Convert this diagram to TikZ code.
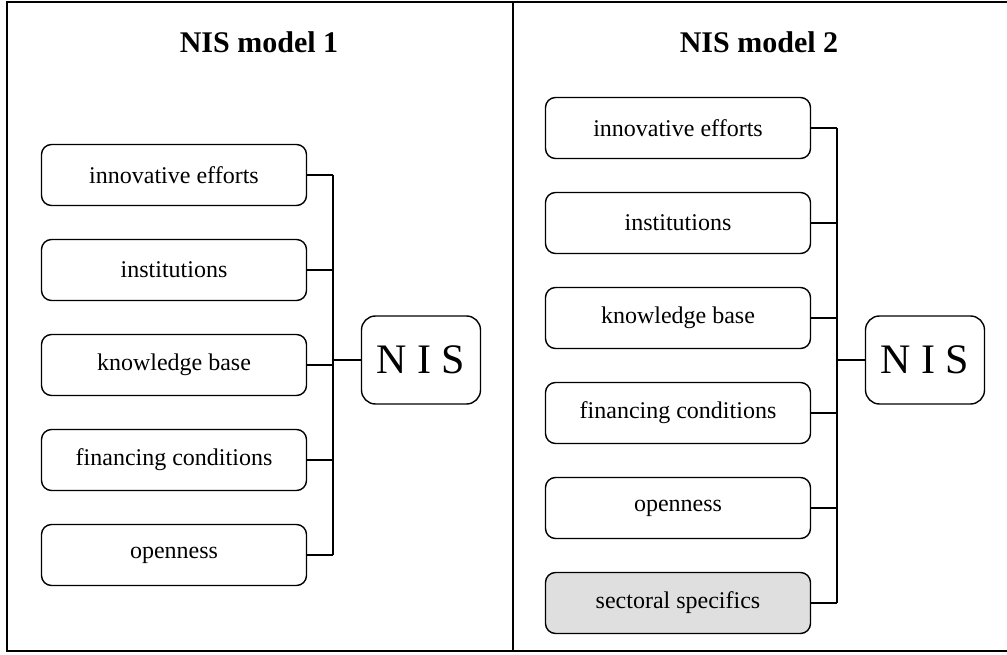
\documentclass[tikz,border=0pt]{standalone}
\usepackage{fontspec}
\setmainfont{Liberation Serif}
\usetikzlibrary{positioning}
\begin{document}
\begin{tikzpicture}[x=1pt, y=-1pt, node distance={32.6pt},
  box/.style = {draw, line width=1.4pt, rounded corners=10pt, minimum width=265pt, minimum height=61pt, font=\fontsize{24}{28}\selectfont},
  nis/.style = {draw, line width=1.4pt, rounded corners=14pt, minimum width=119pt, minimum height=88pt, font=\fontsize{42}{46}\selectfont},
  title/.style = {font=\fontsize{30}{34}\selectfont\bfseries},
  link/.style = {line width=1.4pt},
  bus/.style = {line width=2pt}]
\useasboundingbox (0,0) rectangle (1007,655);
\draw[line width=2.5pt] (1007,2) -| (7,651) -- (1007,651);
\draw[line width=2.5pt] (513,2) -- (513,651);

\node[title] (t1) at (259,42) {NIS model 1};
\node[title] (t2) at (759,42) {NIS model 2};

\node[box] (l1) at (174,175) {innovative efforts};
\node[box] (l2) [below=of l1] {institutions};
\node[box] (l3) [below=of l2] {knowledge base};
\node[box] (l4) [below=of l3] {financing conditions};
\node[box] (l5) [below=of l4] {openness};
\node[nis] (n1) at (421,360) {N I S};

\node[box] (r1) at (678,128) {innovative efforts};
\node[box] (r2) [below=of r1] {institutions};
\node[box] (r3) [below=of r2] {knowledge base};
\node[box] (r4) [below=of r3] {financing conditions};
\node[box] (r5) [below=of r4] {openness};
\node[box, fill=gray!25] (r6) [below=of r5] {sectoral specifics};
\node[nis] (n2) at (925,360) {N I S};

\coordinate (b1) at (333,0);
\coordinate (b2) at (837,0);

\draw[link] (l1.east) -- (l1.east -| b1);
\draw[link] (l2.east) -- (l2.east -| b1);
\draw[link] (l3.east) -- (l3.east -| b1);
\draw[link] (l4.east) -- (l4.east -| b1);
\draw[link] (l5.east) -- (l5.east -| b1);
\draw[bus]  (l1.east -| b1) -- (l5.east -| b1);
\draw[link] (n1.west) -- (n1.west -| b1);

\draw[link] (r1.east) -- (r1.east -| b2);
\draw[link] (r2.east) -- (r2.east -| b2);
\draw[link] (r3.east) -- (r3.east -| b2);
\draw[link] (r4.east) -- (r4.east -| b2);
\draw[link] (r5.east) -- (r5.east -| b2);
\draw[link] (r6.east) -- (r6.east -| b2);
\draw[bus]  (r1.east -| b2) -- (r6.east -| b2);
\draw[link] (n2.west) -- (n2.west -| b2);
\end{tikzpicture}
\end{document}
